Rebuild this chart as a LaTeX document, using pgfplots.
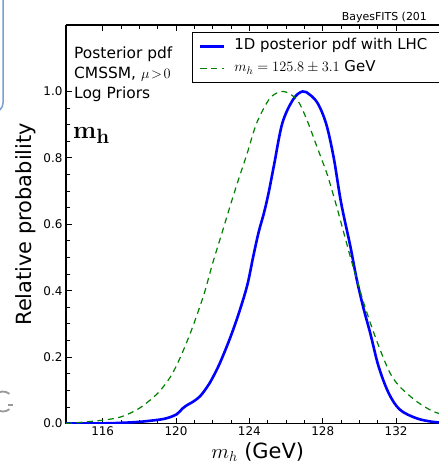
\documentclass[border=0pt]{standalone}
\usepackage[no-math]{fontspec}
\setmainfont{DejaVu Sans}
\usepackage{pgfplots}
\pgfplotsset{compat=1.18}
\definecolor{mplblue}{RGB}{0,0,255}
\definecolor{mplgreen}{RGB}{0,128,0}
\definecolor{slideblue}{RGB}{120,160,210}
\begin{document}
\begin{tikzpicture}
% slide remnants
\draw[slideblue, line width=1.5bp, rounded corners=9bp] (-30bp,10bp) rectangle (3bp,-112bp);
\draw[gray!80, line width=1.8bp] ([shift={(50:10bp)}]3bp,-401.5bp) arc[start angle=50, end angle=310, radius=10bp];
\draw[gray!80, line width=1.3bp] (8bp,-405bp) -- (13bp,-405bp);
\begin{axis}[
  at={(66bp,-423.5bp)}, anchor=south west,
  scale only axis, width=373bp, height=398.5bp,
  xmin=114, xmax=134.34, ymin=0, ymax=1.2,
  axis x line*=box, axis y line*=left,
  xtick={116,120,124,128,132},
  ytick={0,0.2,0.4,0.6,0.8,1.0},
  minor x tick num=3, minor y tick num=3,
  tick align=inside, major tick length=6bp, minor tick length=3.5bp,
  tick style={black, line width=0.8bp},
  axis line style={line width=1.2bp},
  /pgf/number format/assume math mode=true,
  tick label style={font=\fontsize{12}{14}\selectfont},
  yticklabel style={/pgf/number format/.cd, fixed, fixed zerofill, precision=1},
  xlabel={$m_h$ (GeV)},
  ylabel={Relative probability},
  xlabel style={font=\fontsize{21}{24}\selectfont, at={(axis description cs:0.514,-0.0866)}, anchor=base},
  ylabel style={font=\fontsize{21}{24}\selectfont, at={(axis description cs:-0.107,0.5)}, anchor=center, rotate=0},
  legend image code/.code={\draw[#1] (0bp,0bp) -- (23bp,0bp);},
  legend cell align=left,
  legend style={at={(axis description cs:0.3378,0.9824)}, anchor=north west,
    draw=none, fill=none, inner xsep=7bp, inner ysep=3bp,
    font=\fontsize{15}{18}\selectfont,
    nodes={inner sep=3.5bp, text height=11bp, text depth=4bp},
    /tikz/every odd column/.append style={column sep=6bp}},
]
\addplot[mplblue, line width=2.6bp, smooth, tension=0.55] coordinates {
(114.0,0) (116.0,0.0005) (117.0,0.002) (118.0,0.005) (119.0,0.011) (119.5,0.016)
(120.04,0.028) (120.35,0.045) (120.62,0.056) (120.94,0.066) (121.31,0.082)
(121.67,0.108) (121.95,0.133) (122.4,0.183) (123.0,0.265) (123.5,0.345)
(123.9,0.42) (124.2,0.5) (124.5,0.575) (124.8,0.635) (125.05,0.695)
(125.35,0.78) (125.8,0.905) (126.4,0.977) (126.9,1.0)
(127.3,0.99) (127.75,0.962) (128.2,0.9) (128.6,0.8) (129.0,0.665)
(129.5,0.535) (129.85,0.435) (130.2,0.352) (130.6,0.27)
(131.05,0.171) (131.6,0.091) (132.2,0.042) (133.1,0.016) (134.0,0.005) (135.0,0.001)
};
\addlegendentry{1D posterior pdf with LHC}
\addplot[mplgreen, line width=1.2bp, dash pattern=on 6bp off 4.5bp, smooth, tension=0.5] coordinates {
(114.0,0.001) (114.5,0.002) (116.0,0.01) (117.0,0.02) (118.0,0.046) (119.0,0.091)
(119.7,0.141) (120.2,0.195) (120.8,0.275) (121.5,0.385) (122.0,0.483)
(122.5,0.573) (122.95,0.655) (123.35,0.725) (123.86,0.81) (124.4,0.905) (125.13,0.98)
(125.85,1.0) (126.6,0.975) (127.13,0.915) (127.68,0.834) (128.22,0.754) (128.6,0.684)
(128.86,0.633) (129.5,0.503) (130.13,0.382) (130.6,0.302) (131.13,0.222) (131.68,0.151)
(132.2,0.111) (133.13,0.066) (134.04,0.036) (135.0,0.02)
};
\addlegendentry{$m_h=125.8\pm3.1$ GeV}
\end{axis}
% legend frame, continuing past the right edge as in the reference
\draw[line width=1bp] (445bp,-32.5bp) -- (192.5bp,-32.5bp) -- (192.5bp,-82.5bp) -- (445bp,-82.5bp);
\node[anchor=base west, inner sep=0pt, font=\fontsize{15.5}{18}\selectfont] at (74bp,-58bp) {Posterior pdf};
\node[anchor=base west, inner sep=0pt, font=\fontsize{15.5}{18}\selectfont] at (74bp,-78bp) {CMSSM, $\mu\!>\!0$};
\node[anchor=base west, inner sep=0pt, font=\fontsize{15.5}{18}\selectfont] at (74bp,-98bp) {Log Priors};
\node[anchor=base west, inner sep=0pt, font=\fontsize{32}{36}\selectfont] at (73bp,-138bp) {$\mathbf{m_h}$};
\node[anchor=base west, inner sep=0pt, font=\fontsize{11}{13}\selectfont] at (341.7bp,-20bp) {BayesFITS (201};
\pgfresetboundingbox
\useasboundingbox (0bp,0bp) rectangle (439bp,-463bp);
\end{tikzpicture}
\end{document}
